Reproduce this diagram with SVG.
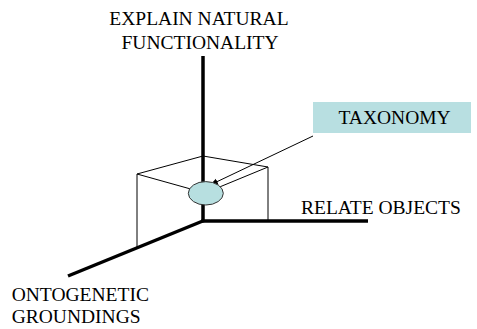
<svg xmlns="http://www.w3.org/2000/svg" width="477" height="329" viewBox="0 0 477 329">
<style>
.lbl{font-family:'Liberation Serif','Times New Roman',Times,serif;font-size:19.5px;fill:#000}
.axis{stroke:#000;stroke-width:3.5;fill:none;stroke-linecap:butt}
.thin{stroke:#000;stroke-width:1;fill:none}
</style>
<defs>
<marker id="ah" viewBox="0 0 10 10" refX="10" refY="5" markerWidth="8" markerHeight="8" orient="auto" markerUnits="userSpaceOnUse">
<path d="M0,1 L10,5 L0,9 z" fill="#000"/>
</marker>
</defs>
<rect width="477" height="329" fill="#fff"/>
<g id="connectors">
<line class="thin" x1="137" y1="174" x2="203" y2="156"/>
<line class="thin" x1="203" y1="156" x2="268" y2="167"/>
<line class="thin" x1="137" y1="174" x2="137" y2="247"/>
<line class="thin" x1="268" y1="167" x2="268" y2="221"/>
<line class="thin" x1="137" y1="174" x2="205" y2="193"/>
<line class="thin" x1="268" y1="167" x2="205" y2="193"/>
<line class="axis" x1="203" y1="56" x2="203" y2="222"/>
<line class="axis" x1="201.5" y1="221" x2="368" y2="221"/>
<line class="axis" x1="204" y1="220.5" x2="68" y2="276"/>
<line class="thin" x1="313" y1="136" x2="210" y2="185" marker-end="url(#ah)"/>
</g>
<g id="node-taxonomy-ellipse">
<ellipse cx="205.8" cy="193.3" rx="17.5" ry="11.7" fill="#b7dfe0" stroke="#333" stroke-width="1"/>
</g>
<g id="node-taxonomy">
<rect x="313" y="102" width="158" height="31" fill="#b8dfe1"/>
<text class="lbl" x="338.5" y="123.5">TAXONOMY</text>
</g>
<g id="node-explain">
<text class="lbl" x="109.3" y="25">EXPLAIN NATURAL</text>
<text class="lbl" x="121.5" y="49.3">FUNCTIONALITY</text>
</g>
<g id="node-relate">
<text class="lbl" x="301" y="214">RELATE OBJECTS</text>
</g>
<g id="node-ontogenetic">
<text class="lbl" x="11.7" y="300.7">ONTOGENETIC</text>
<text class="lbl" x="11.7" y="323.3">GROUNDINGS</text>
</g>
</svg>
